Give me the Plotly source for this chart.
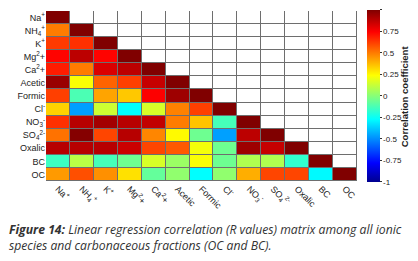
import plotly.graph_objects as go

species = ["Na+", "NH4+", "K+", "Mg2+", "Ca2+", "Acetic", "Formic", "Cl-", "NO3-", "SO42-", "Oxalic", "BC", "OC"]
tick_labels = ["Na<sup>+</sup>", "NH<sub>4</sub><sup>+</sup>", "K<sup>+</sup>", "Mg<sup>2</sup>+", "Ca<sup>2</sup>+",
               "Acetic", "Formic", "Cl<sup>-</sup>", "NO<sub>3</sub><sup>-</sup>", "SO<sub>4</sub><sup>2-</sup>",
               "Oxalic", "BC", "OC"]

# lower-triangle correlation values (row i has i+1 values)
r_na = [1.0]
r_nh4 = [0.50, 1.0]
r_k = [0.63, 0.65, 1.0]
r_mg = [0.74, 0.88, 0.74, 1.0]
r_ca = [0.69, 0.50, 0.82, 0.88, 1.0]
r_acetic = [0.95, 0.23, 0.55, 0.62, 0.86, 1.0]
r_formic = [0.62, -0.12, 0.42, 0.35, 0.75, 0.94, 1.0]
r_cl = [0.33, -0.46, 0.14, -0.27, 0.16, 0.49, 0.62, 1.0]
r_no3 = [0.65, 0.89, 0.93, 0.89, 0.87, 0.50, 0.36, -0.13, 1.0]
r_so4 = [0.52, 0.99, 0.61, 0.89, 0.48, 0.25, -0.05, -0.46, 0.88, 1.0]
r_oxalic = [0.89, 0.89, 0.89, 0.85, 0.61, 0.57, 0.22, -0.05, 0.94, 0.86, 1.0]
r_bc = [-0.15, 0.10, -0.13, -0.05, 0.16, 0.04, 0.23, -0.05, 0.08, 0.08, -0.17, 1.0]
r_oc = [0.44, 0.59, 0.46, 0.30, -0.07, 0.02, -0.27, 0.02, 0.40, 0.61, 0.61, -0.28, 1.0]

rows = [r_na, r_nh4, r_k, r_mg, r_ca, r_acetic, r_formic, r_cl, r_no3, r_so4, r_oxalic, r_bc, r_oc]
cbar_ticks = [1, 0.75, 0.5, 0.25, 0, -0.25, -0.5, -0.75, -1]
cbar_text = ["1", "0.75", "0.5", "0.25", "0", "-0.25", "-0.5", "-0.75", "-1"]
cbar_title = "Correlation coefficient"

n = len(species)
z = [[row[j] if j < len(row) else None for j in range(n)] for row in rows]
z_upper = [[1 if j >= len(row) else None for j in range(n)] for row in rows]
idx = list(range(n))

jet = [[0.0, "rgb(0,0,143)"], [0.11, "rgb(0,0,255)"], [0.365, "rgb(0,255,255)"],
       [0.62, "rgb(255,255,0)"], [0.873, "rgb(255,0,0)"], [1.0, "rgb(128,0,0)"]]

fig = go.Figure()
fig.add_trace(go.Heatmap(
    z=z_upper, x=idx, y=idx, colorscale=[[0, "white"], [1, "white"]], showscale=False,
    xgap=1, ygap=1, hoverinfo="skip"))
fig.add_trace(go.Heatmap(
    z=z, x=idx, y=idx, colorscale=jet, zmin=-1, zmax=1, xgap=1, ygap=1,
    colorbar=dict(
        x=1.032, xanchor="left", xpad=0, ypad=0, y=1.006, yanchor="top",
        lenmode="pixels", len=172, thickness=13, outlinewidth=0,
        tickvals=cbar_ticks, ticktext=cbar_text, ticks="outside", ticklen=2,
        tickcolor="#333", tickfont=dict(family="Liberation Sans, Arial", size=8, color="#222"),
    )))

fig.update_xaxes(tickvals=idx, ticktext=tick_labels, tickangle=45, showgrid=False, zeroline=False,
                 ticks="", automargin=False,
                 tickfont=dict(family="Liberation Sans, Arial", size=9, color="#222"),
                 range=[-0.5, n - 0.5])
fig.update_yaxes(tickvals=idx, ticktext=tick_labels, autorange="reversed", showgrid=False, zeroline=False,
                 ticks="", automargin=False,
                 tickfont=dict(family="Liberation Sans, Arial", size=9, color="#222"))

# colorbar title as rotated text
fig.add_annotation(
    xref="paper", yref="paper", x=1.152, y=0.5, xanchor="center", yanchor="middle",
    textangle=-90, showarrow=False, text="<b>" + cbar_title + "</b>",
    font=dict(family="Liberation Sans, Arial", size=9.5, color="#222"))

fig.add_annotation(
    xref="paper", yref="paper", x=-0.125, y=-0.223, xanchor="left", yanchor="top", align="left",
    showarrow=False,
    text="<b><i>Figure 14:</i></b><i> Linear regression correlation (R values) matrix among all ionic</i><br>"
         "<i>species and carbonaceous fractions (OC and BC).</i>",
    font=dict(family="Open Sans", size=12.2, color="#333"))

# page body has an 8px default margin: keep the figure small enough to avoid scrollbars
fig.update_layout(
    width=402, height=245, margin=dict(l=38, r=53, t=3, b=72, autoexpand=False),
    plot_bgcolor="#6e6e6e", paper_bgcolor="white", showlegend=False)

fig.write_html("out.html")
